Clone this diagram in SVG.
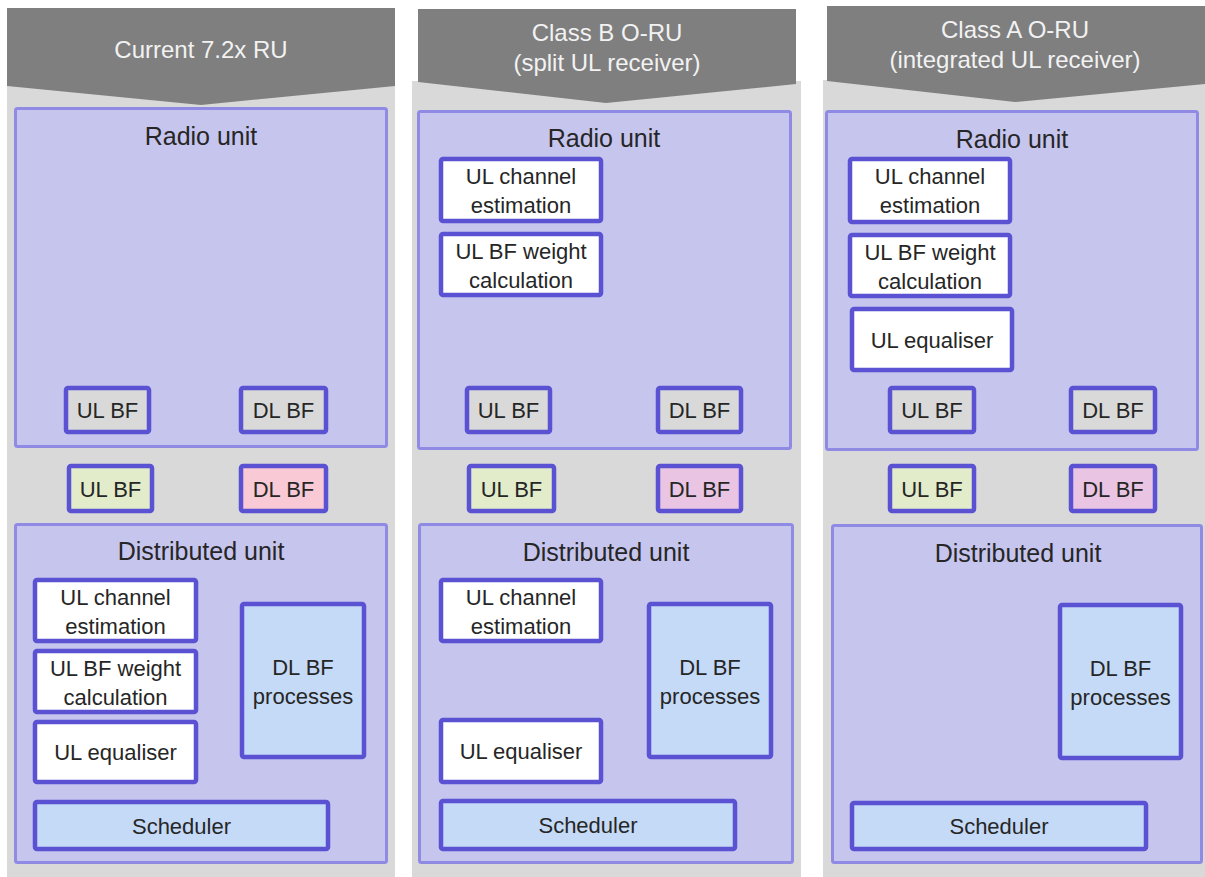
<svg xmlns="http://www.w3.org/2000/svg" width="1205" height="877" viewBox="0 0 1205 877">
<style>
text{font-family:"Liberation Sans",Arial,sans-serif;text-anchor:middle;fill:#262626}
.bg{fill:#d9d9d9}
.ban{fill:#7f7f7f}
.bt{fill:#f2f2f2;font-size:24px}
.unit{fill:#c6c5ee;stroke:#8f8ae3;stroke-width:3}
.ut{font-size:25px}
.n{stroke:#5a52d3;stroke-width:4.5}
.nt{font-size:22px}
.w{fill:#ffffff}
.g{fill:#d9d9d9}
.gr{fill:#e2ecca}
.pk{fill:#f9c9d5}
.pp{fill:#e9c5e3}
.bl{fill:#c5daf7}
</style>
<rect width="1205" height="877" fill="#ffffff"/>
<g id="col1">
<rect class="bg" x="7" y="80" width="388" height="797"/>
<polygon class="ban" points="7,8 395,8 395,86 201,105 7,86"/>
<text class="bt" x="201" y="58">Current 7.2x RU</text>
<g id="c1-ru"><rect class="unit" x="15.5" y="108.5" width="371" height="338" rx="2"/><text class="ut" x="201" y="145">Radio unit</text></g>
<g id="c1-ru-ulbf"><rect class="n g" x="66" y="388" width="83" height="44" rx="2"/><text class="nt" x="107.5" y="418">UL BF</text></g>
<g id="c1-ru-dlbf"><rect class="n g" x="241" y="388" width="85" height="44" rx="2"/><text class="nt" x="283.5" y="418">DL BF</text></g>
<g id="c1-ulbf"><rect class="n gr" x="69" y="466" width="83" height="45" rx="2"/><text class="nt" x="110.5" y="497">UL BF</text></g>
<g id="c1-dlbf"><rect class="n pk" x="241" y="466" width="85" height="45" rx="2"/><text class="nt" x="283.5" y="497">DL BF</text></g>
<g id="c1-du"><rect class="unit" x="15.5" y="524.5" width="371" height="338" rx="2"/><text class="ut" x="201" y="560">Distributed unit</text></g>
<g id="c1-chest"><rect class="n w" x="35" y="580" width="161" height="61" rx="2"/><text class="nt" x="115.5" y="605">UL channel</text><text class="nt" x="115.5" y="634">estimation</text></g>
<g id="c1-bfw"><rect class="n w" x="35" y="651" width="161" height="61" rx="2"/><text class="nt" x="115.5" y="676">UL BF weight</text><text class="nt" x="115.5" y="705">calculation</text></g>
<g id="c1-eq"><rect class="n w" x="35" y="722" width="161" height="60" rx="2"/><text class="nt" x="115.5" y="760">UL equaliser</text></g>
<g id="c1-dlproc"><rect class="n bl" x="242" y="604" width="122" height="153" rx="2"/><text class="nt" x="303" y="675">DL BF</text><text class="nt" x="303" y="704">processes</text></g>
<g id="c1-sched"><rect class="n bl" x="35" y="802" width="293" height="47" rx="2"/><text class="nt" x="181.5" y="834">Scheduler</text></g>
</g>
<g id="col2">
<rect class="bg" x="412" y="81" width="389" height="796"/>
<polygon class="ban" points="418,9 796,9 796,84 606,103 418,82"/>
<text class="bt" x="607" y="41">Class B O-RU</text>
<text class="bt" x="607" y="71">(split UL receiver)</text>
<g id="c2-ru"><rect class="unit" x="418.5" y="111.5" width="372" height="337" rx="2"/><text class="ut" x="604" y="147">Radio unit</text></g>
<g id="c2-ru-chest"><rect class="n w" x="441" y="159" width="160" height="62" rx="2"/><text class="nt" x="521" y="184">UL channel</text><text class="nt" x="521" y="213">estimation</text></g>
<g id="c2-ru-bfw"><rect class="n w" x="441" y="234" width="160" height="61" rx="2"/><text class="nt" x="521" y="259">UL BF weight</text><text class="nt" x="521" y="288">calculation</text></g>
<g id="c2-ru-ulbf"><rect class="n g" x="467" y="388" width="83" height="44" rx="2"/><text class="nt" x="508.5" y="418">UL BF</text></g>
<g id="c2-ru-dlbf"><rect class="n g" x="658" y="388" width="83" height="44" rx="2"/><text class="nt" x="699.5" y="418">DL BF</text></g>
<g id="c2-ulbf"><rect class="n gr" x="469" y="466" width="85" height="45" rx="2"/><text class="nt" x="511.5" y="497">UL BF</text></g>
<g id="c2-dlbf"><rect class="n pp" x="658" y="466" width="83" height="45" rx="2"/><text class="nt" x="699.5" y="497">DL BF</text></g>
<g id="c2-du"><rect class="unit" x="419.5" y="524.5" width="373" height="338" rx="2"/><text class="ut" x="606" y="561">Distributed unit</text></g>
<g id="c2-chest"><rect class="n w" x="441" y="580" width="160" height="61" rx="2"/><text class="nt" x="521" y="605">UL channel</text><text class="nt" x="521" y="634">estimation</text></g>
<g id="c2-dlproc"><rect class="n bl" x="649" y="604" width="122" height="153" rx="2"/><text class="nt" x="710" y="675">DL BF</text><text class="nt" x="710" y="704">processes</text></g>
<g id="c2-eq"><rect class="n w" x="441" y="720" width="160" height="62" rx="2"/><text class="nt" x="521" y="759">UL equaliser</text></g>
<g id="c2-sched"><rect class="n bl" x="441" y="801" width="294" height="48" rx="2"/><text class="nt" x="588" y="833">Scheduler</text></g>
</g>
<g id="col3">
<rect class="bg" x="823" y="80" width="382" height="797"/>
<polygon class="ban" points="827,6 1205,6 1205,84 1015,102 827,81"/>
<text class="bt" x="1015" y="38">Class A O-RU</text>
<text class="bt" x="1015" y="68">(integrated UL receiver)</text>
<g id="c3-ru"><rect class="unit" x="826.5" y="111.5" width="371" height="338" rx="2"/><text class="ut" x="1012" y="148">Radio unit</text></g>
<g id="c3-ru-chest"><rect class="n w" x="850" y="159" width="160" height="63" rx="2"/><text class="nt" x="930" y="184">UL channel</text><text class="nt" x="930" y="213">estimation</text></g>
<g id="c3-ru-bfw"><rect class="n w" x="850" y="235" width="160" height="61" rx="2"/><text class="nt" x="930" y="260">UL BF weight</text><text class="nt" x="930" y="289">calculation</text></g>
<g id="c3-ru-eq"><rect class="n w" x="852" y="309" width="160" height="61" rx="2"/><text class="nt" x="932" y="348">UL equaliser</text></g>
<g id="c3-ru-ulbf"><rect class="n g" x="890" y="388" width="84" height="44" rx="2"/><text class="nt" x="932" y="418">UL BF</text></g>
<g id="c3-ru-dlbf"><rect class="n g" x="1071" y="388" width="84" height="44" rx="2"/><text class="nt" x="1113" y="418">DL BF</text></g>
<g id="c3-ulbf"><rect class="n gr" x="890" y="466" width="84" height="45" rx="2"/><text class="nt" x="932" y="497">UL BF</text></g>
<g id="c3-dlbf"><rect class="n pp" x="1071" y="466" width="84" height="45" rx="2"/><text class="nt" x="1113" y="497">DL BF</text></g>
<g id="c3-du"><rect class="unit" x="832.5" y="525.5" width="369" height="337" rx="2"/><text class="ut" x="1018" y="562">Distributed unit</text></g>
<g id="c3-dlproc"><rect class="n bl" x="1060" y="605" width="121" height="153" rx="2"/><text class="nt" x="1120.5" y="676">DL BF</text><text class="nt" x="1120.5" y="705">processes</text></g>
<g id="c3-sched"><rect class="n bl" x="852" y="803" width="294" height="46" rx="2"/><text class="nt" x="999" y="834">Scheduler</text></g>
</g>
<g id="connectors"></g>
</svg>
